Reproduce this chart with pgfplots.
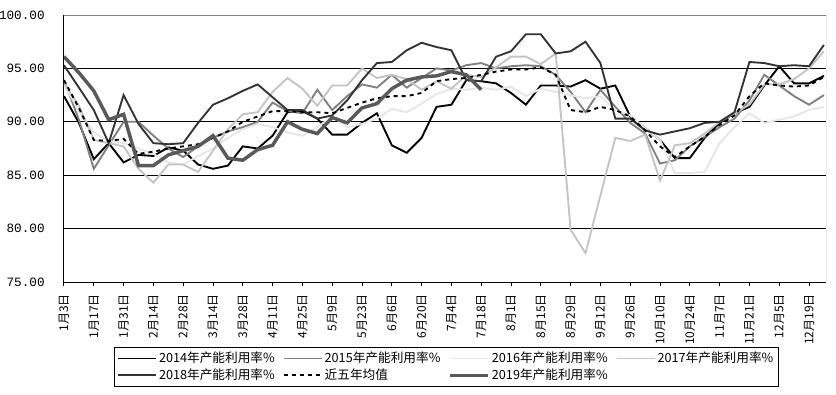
\documentclass[border=0pt]{standalone}
\usepackage{fontspec}
\setmainfont{Noto Sans CJK SC}
\setmonofont{Liberation Mono}
\usepackage{pgfplots}
\usepackage{pgfplotstable}
\pgfplotsset{compat=1.18}
\definecolor{c14}{HTML}{000000}
\definecolor{c15}{HTML}{808080}
\definecolor{c16}{HTML}{E6E6E6}
\definecolor{c17}{HTML}{C4C4C4}
\definecolor{c18}{HTML}{333333}
\definecolor{c19}{HTML}{595959}
\definecolor{frame}{HTML}{808080}

\pgfplotstableread{
i  a14  a15  a16  a17  a18  avg  a19
0  92.4 93.9 93.5 93.6 95.3 93.9 96.1
1  89.9 90.2 91.0 91.5 93.2 91.3 94.6
2  86.5 85.6 89.0 88.3 91.1 88.3 92.9
3  88.0 87.8 88.2 88.0 88.0 88.2 90.2
4  86.2 90.0 88.0 87.7 92.5 88.4 90.7
5  86.9 90.0 87.5 85.6 89.8 87.0 85.9
6  86.8 88.7 87.0 84.3 88.0 87.2 85.9
7  87.6 87.5 86.2 86.0 87.9 87.5 86.9
8  87.3 86.7 86.0 86.0 88.0 87.7 87.3
9  86.0 87.7 86.8 85.3 89.9 87.9 87.7
10 85.6 88.5 87.5 87.3 91.6 88.5 88.7
11 85.9 89.1 88.5 89.3 92.2 89.1 86.6
12 87.7 89.5 89.3 90.7 92.9 90.0 86.4
13 87.5 90.0 89.8 90.9 93.5 90.5 87.4
14 88.7 91.8 89.5 92.8 92.3 91.0 87.8
15 90.9 91.0 89.0 94.1 91.1 91.0 90.0
16 91.0 90.8 88.7 93.1 91.1 90.9 89.3
17 90.3 93.0 89.5 91.5 90.3 90.9 88.9
18 88.8 91.1 90.5 93.4 90.6 90.8 90.4
19 88.8 92.4 89.5 93.4 92.0 91.3 89.9
20 89.9 93.5 89.8 95.0 93.9 91.8 91.3
21 90.8 93.2 90.3 94.1 95.5 92.2 91.7
22 87.8 94.4 91.2 94.4 95.6 92.4 93.1
23 87.1 93.2 90.9 94.0 96.7 92.4 93.9
24 88.5 94.1 91.7 93.0 97.4 92.7 94.2
25 91.4 95.0 92.6 93.8 97.0 93.8 94.3
26 91.6 94.8 93.1 93.1 96.7 94.0 94.7
27 93.9 95.3 93.0 94.4 93.9 94.1 94.4
28 93.8 95.5 93.2 94.2 93.8 94.4 93.0
29 93.6 95.0 93.0 95.1 96.1 94.7 nan
30 92.7 95.2 93.3 96.1 96.6 94.9 nan
31 91.6 95.3 92.4 96.1 98.2 94.9 nan
32 93.4 95.2 93.1 95.4 98.2 95.1 nan
33 93.4 94.4 92.8 96.4 96.4 94.4 nan
34 93.3 92.8 92.5 79.9 96.6 91.1 nan
35 93.9 90.9 92.2 77.7 97.5 90.9 nan
36 93.1 93.0 92.4 83.1 95.5 91.4 nan
37 93.4 91.4 91.1 88.5 90.3 91.1 nan
38 90.5 89.9 90.6 88.2 90.3 90.5 nan
39 89.4 88.9 89.4 88.8 89.2 89.2 nan
40 88.3 86.1 88.3 84.5 88.8 87.7 nan
41 86.6 86.4 85.2 87.8 89.1 86.7 nan
42 86.6 87.7 85.2 88.0 89.4 87.7 nan
43 88.5 88.6 85.3 88.9 89.9 88.6 nan
44 89.9 89.5 88.0 90.0 90.0 89.7 nan
45 90.8 90.3 89.5 90.8 90.9 90.6 nan
46 91.4 92.0 90.8 91.6 95.6 92.4 nan
47 93.4 94.4 89.9 93.5 95.5 93.6 nan
48 95.2 93.4 90.2 93.5 95.2 93.4 nan
49 93.6 92.4 90.5 94.0 95.3 93.3 nan
50 93.6 91.6 91.1 95.0 95.2 93.4 nan
51 94.3 92.5 91.4 96.6 97.2 94.2 nan
}\datatable

\begin{document}
\begin{tikzpicture}
\useasboundingbox (-48pt,-84pt) rectangle (579pt,211.5pt);
\begin{axis}[
  at={(0pt,0pt)}, anchor=south west,
  scale only axis, width=571.5pt, height=200.25pt,
  xmin=0, xmax=51.14, ymin=75, ymax=100,
  axis x line*=bottom, axis y line*=left,
  axis line style={black, line width=0.75pt, -},
  xtick={0,2,...,50},
  xticklabels={1月3日,1月17日,1月31日,2月14日,2月28日,3月14日,3月28日,4月11日,4月25日,5月9日,5月23日,6月6日,6月20日,7月4日,7月18日,8月1日,8月15日,8月29日,9月12日,9月26日,10月10日,10月24日,11月7日,11月21日,12月5日,12月19日},
  x tick style={black, line width=0.75pt},
  tick align=outside, major tick length=3pt,
  ytick={75,80,85,90,95,100},
  yticklabels={75.00,80.00,85.00,90.00,95.00,100.00},
  y tick style={draw=none},
  ymajorgrids, grid style={black, line width=0.75pt},
  xticklabel shift=2.5pt,
  xticklabel style={rotate=90, anchor=east, font=\fontsize{9}{10}\selectfont},
  yticklabel style={font=\ttfamily\fontsize{9.5}{10}\selectfont, xshift=-8pt},
  legend columns=4,
  legend cell align=left,
  legend style={at={(0.0656,-0.2434)}, anchor=north west, draw=black,
    line width=0.75pt, inner sep=2pt,
    font=\fontsize{9.5}{11}\selectfont,
    nodes={inner xsep=1.5pt, inner ysep=1.5pt},
    /tikz/every even column/.append style={column sep=4.5pt}},
  legend image code/.code={\draw[#1] (0pt,0pt) -- (28.5pt,0pt);},
  no markers,
]
\addplot[c14, line width=1.4pt] table[x=i, y=a14] {\datatable};
\addlegendentry{2014年产能利用率\%}
\addplot[c15, line width=1.4pt] table[x=i, y=a15] {\datatable};
\addlegendentry{2015年产能利用率\%}
\addplot[c16, line width=1.4pt] table[x=i, y=a16] {\datatable};
\addlegendentry{2016年产能利用率\%}
\addplot[c17, line width=1.4pt] table[x=i, y=a17] {\datatable};
\addlegendentry{2017年产能利用率\%}
\addplot[c18, line width=1.4pt] table[x=i, y=a18] {\datatable};
\addlegendentry{2018年产能利用率\%}
\addplot[black, line width=1.4pt, dash pattern=on 3pt off 3pt] table[x=i, y=avg] {\datatable};
\addlegendentry{近五年均值}
\addplot[c19, line width=2.6pt] table[x=i, y=a19] {\datatable};
\addlegendentry{2019年产能利用率\%}
\draw[frame, line width=0.75pt] (rel axis cs:0,1) -- (rel axis cs:1,1) -- (rel axis cs:1,0);
\end{axis}
\end{tikzpicture}
\end{document}
